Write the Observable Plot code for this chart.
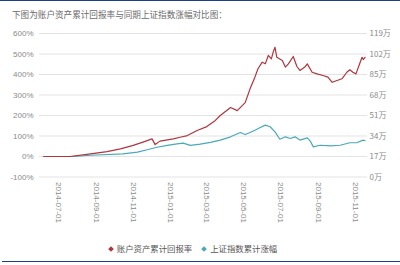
<!DOCTYPE html>
<html>
<head>
<meta charset="utf-8">
<script src="https://cdn.jsdelivr.net/npm/d3@7"></script>
<script src="https://cdn.jsdelivr.net/npm/@observablehq/plot@0.6"></script>
<style>
  html, body { margin: 0; padding: 0; background: #fff; }
  #wrap { position: relative; width: 400px; height: 265px; overflow: hidden; font-family: "Noto Sans CJK SC", "Liberation Sans", sans-serif; }
  #title { position: absolute; left: 12px; top: 8px; font-size: 8.6px; color: #6b6b6b; white-space: nowrap; }
  #legend { position: absolute; left: -7px; width: 400px; top: 242px; text-align: center; font-size: 8.4px; color: #555; white-space: nowrap; }
  #legend span.item { margin: 0 5px; }
  #legend i { display: inline-block; width: 4px; height: 4px; transform: rotate(45deg); margin-right: 4px; vertical-align: 1px; }
  #topline { position: absolute; left: 0; top: 0; width: 400px; height: 1px; background: #1f3d8c; }
  #botline { position: absolute; left: 2px; top: 261px; width: 398px; height: 1px; background: #1f3d8c; }
  #chart { position: absolute; left: 0; top: 0; }
</style>
</head>
<body>
<div id="wrap">
  <div id="topline"></div>
  <div id="title">下图为账户资产累计回报率与同期上证指数涨幅对比图：</div>
  <div id="chart"></div>
  <div id="legend"></div>
  <div id="botline"></div>
</div>
<script>
// Series names
const seriesNames = ["账户资产累计回报率", "上证指数累计涨幅"];
const seriesColors = ["#b0353d", "#4aa9b9"];

// Account cumulative return (%)
const redDates = ["2014-06-07","2014-07-20","2014-08-23","2014-09-19","2014-10-11","2014-11-01","2014-11-17","2014-12-02","2014-12-07","2014-12-15","2015-01-06","2015-01-17","2015-01-29","2015-02-14","2015-03-02","2015-03-16","2015-03-24","2015-04-10","2015-04-21","2015-05-04","2015-05-12","2015-05-20","2015-05-25","2015-06-01","2015-06-06","2015-06-11","2015-06-16","2015-06-19","2015-06-22","2015-06-25","2015-07-04","2015-07-09","2015-07-14","2015-07-22","2015-07-28","2015-08-02","2015-08-10","2015-08-14","2015-08-22","2015-08-30","2015-09-09","2015-09-17","2015-09-24","2015-10-02","2015-10-10","2015-10-18","2015-10-23","2015-10-28","2015-11-02","2015-11-09","2015-11-12","2015-11-14","2015-11-17"];
const redValues = [0,0,13,24,37,54,70,86,58,75,86,94,102,127,146,176,200,239,224,263,330,387,428,460,452,493,476,509,533,484,468,436,452,488,439,420,436,452,411,403,395,387,362,371,379,411,423,411,403,460,484,473,484];

// Shanghai Composite cumulative rise (%)
const blueDates = ["2014-06-07","2014-07-25","2014-08-23","2014-10-15","2014-11-08","2014-11-24","2014-12-10","2014-12-27","2015-01-12","2015-01-22","2015-02-03","2015-02-19","2015-03-08","2015-03-24","2015-04-10","2015-04-26","2015-05-04","2015-05-12","2015-05-20","2015-05-28","2015-06-06","2015-06-14","2015-06-22","2015-06-30","2015-07-09","2015-07-17","2015-07-25","2015-08-02","2015-08-14","2015-08-19","2015-08-24","2015-09-04","2015-09-21","2015-10-07","2015-10-23","2015-11-04","2015-11-14","2015-11-17"];
const blueValues = [0,0,6,13,21,33,45,54,62,65,54,60,69,80,96,117,107,117,128,140,153,145,120,84,96,88,96,80,91,75,47,55,52,55,67,68,80,77];

// Axis ticks
const xTicks = ["2014-07-01","2014-09-01","2014-11-01","2015-01-01","2015-03-01","2015-05-01","2015-07-01","2015-09-01","2015-11-01"];
const yTicks = [-100,0,100,200,300,400,500,600];
const yTickLabels = ["-100%","0%","100%","200%","300%","400%","500%","600%"];
const rightTickLabels = ["0万","17万","34万","51万","68万","85万","102万","119万"];
const xDomain = ["2014-05-31","2015-11-21"];

const parse = d3.utcParse("%Y-%m-%d");
const red = redDates.map((d, i) => ({date: parse(d), value: redValues[i]}));
const blue = blueDates.map((d, i) => ({date: parse(d), value: blueValues[i]}));

const chart = Plot.plot({
  width: 400,
  height: 265,
  marginTop: 33,
  marginBottom: 88.5,
  marginLeft: 39,
  marginRight: 33,
  style: {fontFamily: "'Liberation Sans', 'Noto Sans CJK SC', sans-serif", fontSize: "8px", color: "#8a8a8a", background: "transparent"},
  x: {type: "utc", domain: xDomain.map(parse)},
  y: {domain: [-100, 600]},
  marks: [
    Plot.gridY(yTicks, {stroke: "#dcdcdc", strokeOpacity: 1, strokeWidth: 0.8}),
    Plot.axisY(yTicks, {anchor: "left", tickSize: 0, tickPadding: 6, tickFormat: d => yTickLabels[yTicks.indexOf(d)], label: null}),
    Plot.axisY(yTicks, {anchor: "right", tickSize: 0, tickPadding: 2, tickFormat: d => rightTickLabels[yTicks.indexOf(d)], label: null, fontFamily: "'Noto Sans CJK SC', sans-serif"}),
    Plot.axisX(xTicks.map(parse), {anchor: "bottom", tickSize: 0, tickPadding: 5, tickRotate: 90, tickFormat: d3.utcFormat("%Y-%m-%d"), label: null}),
    Plot.line(blue, {x: "date", y: "value", stroke: seriesColors[1], strokeWidth: 1.2}),
    Plot.line(red, {x: "date", y: "value", stroke: seriesColors[0], strokeWidth: 1.2})
  ]
});
document.getElementById("chart").appendChild(chart);

const legend = document.getElementById("legend");
seriesNames.forEach((n, i) => {
  const s = document.createElement("span");
  s.className = "item";
  const m = document.createElement("i");
  m.style.background = seriesColors[i];
  s.appendChild(m);
  s.appendChild(document.createTextNode(n));
  legend.appendChild(s);
});
</script>
</body>
</html>
